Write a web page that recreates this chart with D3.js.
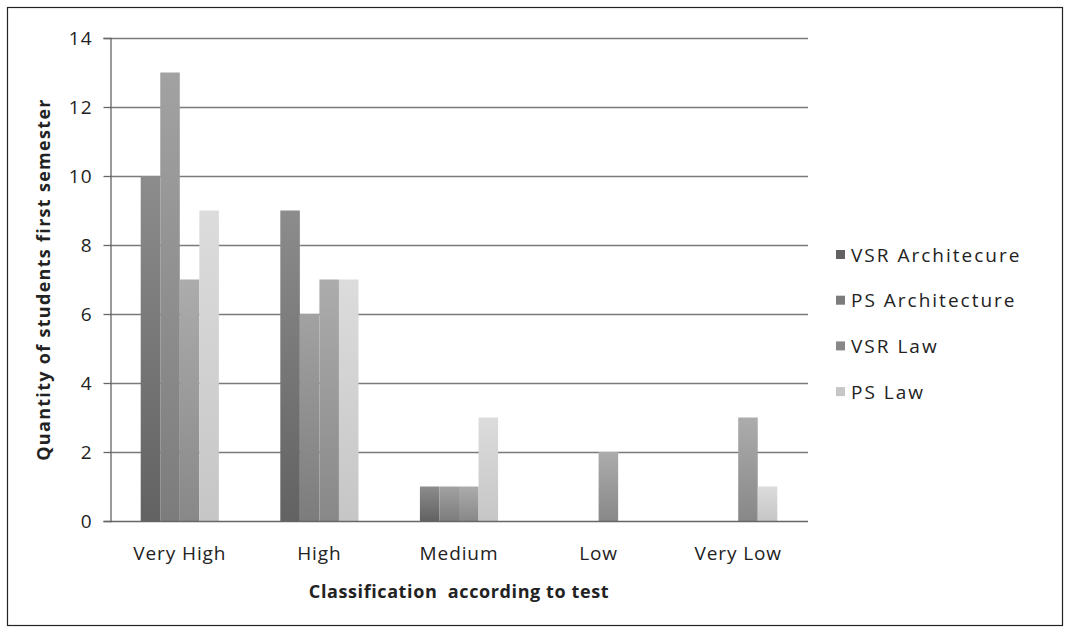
<!DOCTYPE html>
<html>
<head>
<meta charset="utf-8">
<script src="https://cdn.jsdelivr.net/npm/d3@7"></script>
<style>
  html, body { margin: 0; padding: 0; background: #fff; }
  svg { display: block; }
  text { font-family: "Open Sans", "DejaVu Sans", sans-serif; fill: #222; }
</style>
</head>
<body>
<svg id="chart" width="1070" height="633"></svg>
<script>
// Classification groups on the x axis
const categories = ["Very High", "High", "Medium", "Low", "Very Low"];
// Series names shown in the legend
const seriesNames = ["VSR Architecure", "PS Architecture", "VSR Law", "PS Law"];
// Student counts per series, in category order
const vsrArchitecture = [10, 9, 1, 0, 0];
const psArchitecture  = [13, 6, 1, 0, 0];
const vsrLaw          = [7, 7, 1, 2, 3];
const psLaw           = [9, 7, 3, 0, 1];
const yTicks = [0, 2, 4, 6, 8, 10, 12, 14];

const seriesValues = [vsrArchitecture, psArchitecture, vsrLaw, psLaw];
// Grey fills, light at the top of each bar and darker toward the base
const shades = [
  ["#8c8c8c", "#626262"],
  ["#a2a2a2", "#7c7c7c"],
  ["#acacac", "#888888"],
  ["#dcdcdc", "#c6c6c6"]
];

const svg = d3.select("#chart");
const plot = { left: 110, right: 808, top: 38, bottom: 521 };

// Outer frame
svg.append("rect")
  .attr("x", 7.5).attr("y", 7.5)
  .attr("width", 1055).attr("height", 618)
  .attr("fill", "none").attr("stroke", "#222").attr("stroke-width", 1.2);

const defs = svg.append("defs");
shades.forEach((s, i) => {
  const g = defs.append("linearGradient")
    .attr("id", "grad" + i)
    .attr("x1", 0).attr("y1", 0).attr("x2", 0).attr("y2", 1);
  g.append("stop").attr("offset", "0%").attr("stop-color", s[0]);
  g.append("stop").attr("offset", "100%").attr("stop-color", s[1]);
});

const x = d3.scaleBand()
  .domain(categories)
  .range([plot.left, plot.right])
  .paddingInner(0.44)
  .paddingOuter(0.22);

const xInner = d3.scaleBand()
  .domain(d3.range(seriesNames.length))
  .range([0, x.bandwidth()]);

const y = d3.scaleLinear()
  .domain([0, 14])
  .range([plot.bottom, plot.top]);

// Horizontal gridlines
svg.append("g")
  .selectAll("line")
  .data(yTicks.filter(t => t > 0))
  .join("line")
  .attr("x1", plot.left).attr("x2", plot.right)
  .attr("y1", d => Math.round(y(d)) + 0.5)
  .attr("y2", d => Math.round(y(d)) + 0.5)
  .attr("stroke", "#7a7a7a").attr("stroke-width", 1.3);

// Bars
const groups = svg.append("g")
  .selectAll("g")
  .data(categories)
  .join("g")
  .attr("transform", d => `translate(${x(d)},0)`);

groups.selectAll("rect")
  .data((c, ci) => seriesValues.map((vals, si) => ({ si, v: vals[ci] })))
  .join("rect")
  .filter(d => d.v > 0)
  .attr("x", d => xInner(d.si))
  .attr("width", xInner.bandwidth())
  .attr("y", d => y(d.v))
  .attr("height", d => y(0) - y(d.v))
  .attr("fill", d => `url(#grad${d.si})`);

// Y axis
const yAxis = d3.axisLeft(y)
  .tickValues(yTicks)
  .tickSize(7)
  .tickPadding(11)
  .tickFormat(d3.format("d"));

const yG = svg.append("g")
  .attr("transform", `translate(${plot.left + 0.5},0)`)
  .call(yAxis);
yG.select(".domain").attr("stroke", "#666").attr("stroke-width", 1.3);
yG.selectAll(".tick line").attr("stroke", "#666").attr("stroke-width", 1.3);
yG.selectAll(".tick text")
  .attr("font-size", 19)
  .attr("letter-spacing", 1)
  .attr("font-family", "\"Open Sans\", sans-serif")
  .attr("fill", "#222");

// X axis (baseline and category labels, no ticks)
const xAxis = d3.axisBottom(x).tickSize(0).tickPadding(25);
const xG = svg.append("g")
  .attr("transform", `translate(0,${plot.bottom + 0.5})`)
  .call(xAxis);
xG.select(".domain")
  .attr("d", `M${plot.left},0H${plot.right}`)
  .attr("stroke", "#666").attr("stroke-width", 1.3);
xG.selectAll(".tick text")
  .attr("font-size", 19)
  .attr("letter-spacing", 0.9)
  .attr("font-family", "\"Open Sans\", sans-serif")
  .attr("fill", "#222");

// Axis titles
svg.append("text")
  .attr("x", (plot.left + plot.right) / 2)
  .attr("y", 598)
  .attr("text-anchor", "middle")
  .attr("font-size", 18)
  .attr("letter-spacing", 0.6)
  .attr("font-weight", "bold")
  .style("white-space", "pre")
  .text("Classification  according to test");

svg.append("text")
  .attr("transform", `translate(50,${(plot.top + plot.bottom) / 2}) rotate(-90)`)
  .attr("text-anchor", "middle")
  .attr("font-size", 18)
  .attr("letter-spacing", 1.3)
  .attr("font-weight", "bold")
  .text("Quantity of students first semester");

// Legend
const legend = svg.append("g")
  .selectAll("g")
  .data(seriesNames)
  .join("g")
  .attr("transform", (d, i) => `translate(836,${255 + i * 45.7})`);

legend.append("rect")
  .attr("x", 0).attr("y", -5)
  .attr("width", 9).attr("height", 9)
  .attr("fill", (d, i) => shades[i][1]);

legend.append("text")
  .attr("x", 15).attr("y", 0)
  .attr("dy", "0.35em")
  .attr("font-size", 19)
  .attr("letter-spacing", 2)
  .text(d => d);
</script>
</body>
</html>
